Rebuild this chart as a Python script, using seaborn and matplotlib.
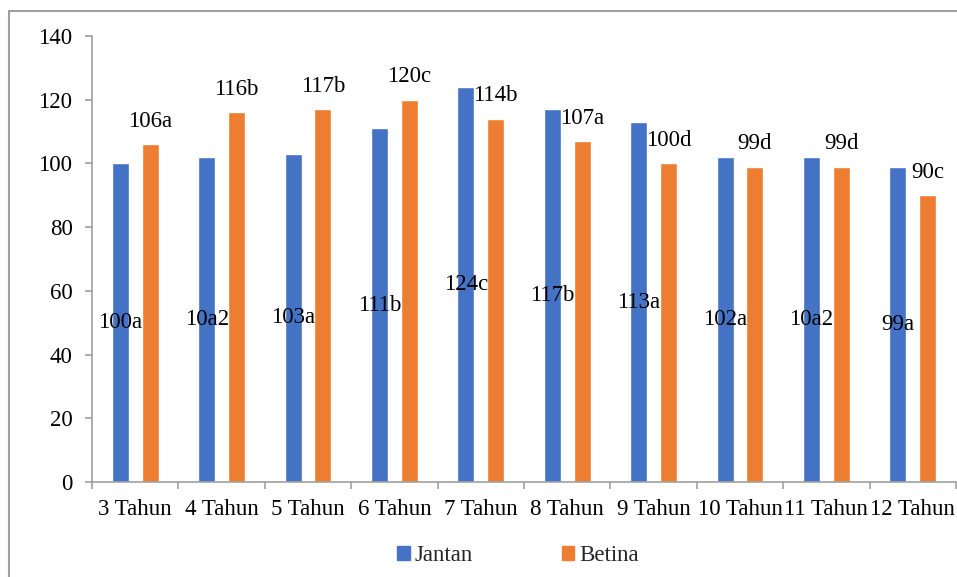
"""
Grouped bar chart of Jantan / Betina values by age (Tahun).
"""

import matplotlib.pyplot as plt
import matplotlib.patches as mpatches
import pandas as pd
import seaborn as sns

# data
categories = ['3 Tahun', '4 Tahun', '5 Tahun', '6 Tahun', '7 Tahun',
              '8 Tahun', '9 Tahun', '10 Tahun', '11 Tahun', '12 Tahun']
jantan = [100, 102, 103, 111, 124, 117, 113, 102, 102, 99]
betina = [106, 116, 117, 120, 114, 107, 100, 99, 99, 90]
jantan_labels = ['100a', '10a2', '103a', '111b', '124c',
                 '117b', '113a', '102a', '10a2', '99a']
betina_labels = ['106a', '116b', '117b', '120c', '114b',
                 '107a', '100d', '99d', '99d', '90c']
series_names = ['Jantan', 'Betina']
y_ticks = [0, 20, 40, 60, 80, 100, 120, 140]

colors = ['#4472C4', '#ED7D31']
axis_grey = '#a0a0a0'
font_size = 16.5

sns.set_theme(style='white')
plt.rcParams['font.family'] = 'serif'
plt.rcParams['font.serif'] = ['Liberation Serif', 'Times New Roman',
                              'Nimbus Roman', 'DejaVu Serif']

df = pd.DataFrame({
    'Umur': categories * 2,
    'Jenis': [series_names[0]] * len(categories) + [series_names[1]] * len(categories),
    'Nilai': jantan + betina,
})

fig = plt.figure(figsize=(9.57, 5.77), dpi=100)
ax = fig.add_axes([0.0961, 0.1646, 0.9029, 0.773])

sns.barplot(data=df, x='Umur', y='Nilai', hue='Jenis', order=categories,
            hue_order=series_names, palette=colors, width=0.69, gap=0.43,
            saturation=1, errorbar=None, legend=False, ax=ax)

# value labels: Jantan centred in the bar, Betina above the bar
ax.bar_label(ax.containers[0], labels=jantan_labels, label_type='center',
             fontsize=font_size, color='black')
ax.bar_label(ax.containers[1], labels=betina_labels, label_type='edge',
             padding=9, fontsize=font_size, color='black')

ax.set_xlim(-0.5, len(categories) - 0.5)
ax.set_ylim(0, 140)
ax.set_yticks(y_ticks)
ax.set_xlabel('')
ax.set_ylabel('')

# axes styling like a spreadsheet chart
for side in ['top', 'right']:
    ax.spines[side].set_visible(False)
for side in ['left', 'bottom']:
    ax.spines[side].set_color(axis_grey)
    ax.spines[side].set_linewidth(1.2)

ax.tick_params(axis='y', which='major', length=5, width=1.2, color=axis_grey,
               labelsize=font_size, labelcolor='black', pad=9, left=True)
ax.tick_params(axis='x', which='major', length=0, labelsize=font_size,
               labelcolor='black', pad=12)
ax.set_xticks([i - 0.5 for i in range(len(categories) + 1)], minor=True)
ax.tick_params(axis='x', which='minor', length=5, width=1.2,
               color=axis_grey, bottom=True)

handles = [mpatches.Patch(color=c, label=n) for c, n in zip(colors, series_names)]
fig.legend(handles=handles, loc='center', bbox_to_anchor=(0.541, 0.037),
           ncol=2, frameon=False, fontsize=font_size, handlelength=0.55,
           handleheight=0.55, handletextpad=0.2, columnspacing=3.9)

# light grey frame round the chart area
fig.patches.append(mpatches.Rectangle((0.0095, -0.01), 1.0, 1.0 - 0.0095,
                                      transform=fig.transFigure, fill=False,
                                      edgecolor=axis_grey, linewidth=1.5))

fig.savefig('out.png', dpi=100)
